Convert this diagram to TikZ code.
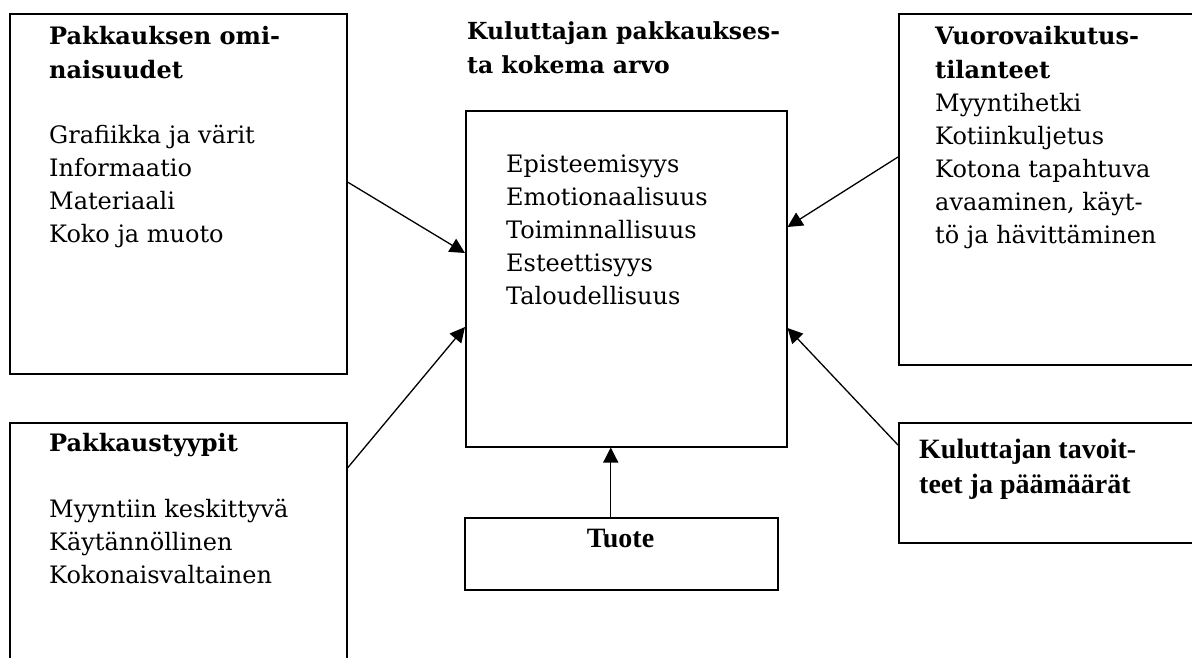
\documentclass[tikz,border=0pt]{standalone}
\usepackage{fontspec}
\setmainfont{DejaVu Serif}
\newfontfamily\timesfont{Liberation Serif}
\usetikzlibrary{arrows.meta,calc}
\begin{document}
\begin{tikzpicture}[x=1pt,y=-1pt,
  box/.style={draw,line width=1.5pt,rectangle,anchor=north west,inner sep=0pt},
  txt/.style={anchor=base west,align=left,inner sep=0pt,font=\fontsize{24}{33}\selectfont},
  hdtxt/.style={anchor=base west,align=left,inner sep=0pt,font=\fontsize{23.5}{34}\selectfont\bfseries},
  tmtxt/.style={inner sep=0pt,font=\timesfont\bfseries\fontsize{28}{35}\selectfont},
  arr/.style={line width=1.3pt,-{Triangle[length=15pt,width=15pt]}}
]
\useasboundingbox (0,0) rectangle (1192,657);
\clip (0,0) rectangle (1192,657);
\fill[white] (0,0) rectangle (1192,657);

% boxes
\node[box,minimum width=337pt,minimum height=360pt] (b1) at (9,13) {};
\node[box,minimum width=337pt,minimum height=300pt] (b2) at (9,422) {};
\node[box,minimum width=360pt,minimum height=351pt] (b3) at (898,13) {};
\node[box,minimum width=360pt,minimum height=120pt] (b4) at (898,422) {};
\node[box,minimum width=321pt,minimum height=336pt] (c) at (465,110) {};
\node[box,minimum width=313pt,minimum height=72pt] (t) at (464,517) {};

% texts (anchored at the baseline of the last line)
\node[txt] (t1) at (49,242) {\textbf{Pakkauksen omi-}\\[1pt]\textbf{naisuudet}\\[32pt]Grafiikka ja värit\\Informaatio\\Materiaali\\Koko ja muoto};
\node[txt] (t2) at (49,583) {\textbf{Pakkaustyypit}\\[33pt]Myyntiin keskittyvä\\Käytännöllinen\\Kokonaisvaltainen};
\node[txt] (t3) at (935,243) {\textbf{Vuorovaikutus-}\\[1pt]\textbf{tilanteet}\\Myyntihetki\\Kotiinkuljetus\\Kotona tapahtuva\\avaaminen, käyt-\\tö ja hävittäminen};
\node[hdtxt] (tc) at (467,73) {Kuluttajan pakkaukses-\\ta kokema arvo};
\node[txt] (tl) at (506,304) {Episteemisyys\\Emotionaalisuus\\Toiminnallisuus\\Esteettisyys\\Taloudellisuus};
\node[tmtxt,anchor=base west,align=left] (t4) at (919,493) {Kuluttajan tavoit-\\teet ja päämäärät};
\node[tmtxt,anchor=base] (tt) at (620.5,547) {Tuote};

% arrows
\draw[arr] ([yshift=-169pt]b1.north east) -- ([yshift=-143pt]c.north west);
\draw[arr] ([yshift=-46pt]b2.north east) -- ([yshift=-217pt]c.north west);
\draw[arr] ([yshift=-144pt]b3.north west) -- ([yshift=-117pt]c.north east);
\draw[arr] ([yshift=-23pt]b4.north west) -- ([yshift=-218pt]c.north east);
\draw[arr] ([xshift=-10.5pt]t.north) -- ([xshift=-10.5pt]t.north |- c.south);
\end{tikzpicture}
\end{document}
